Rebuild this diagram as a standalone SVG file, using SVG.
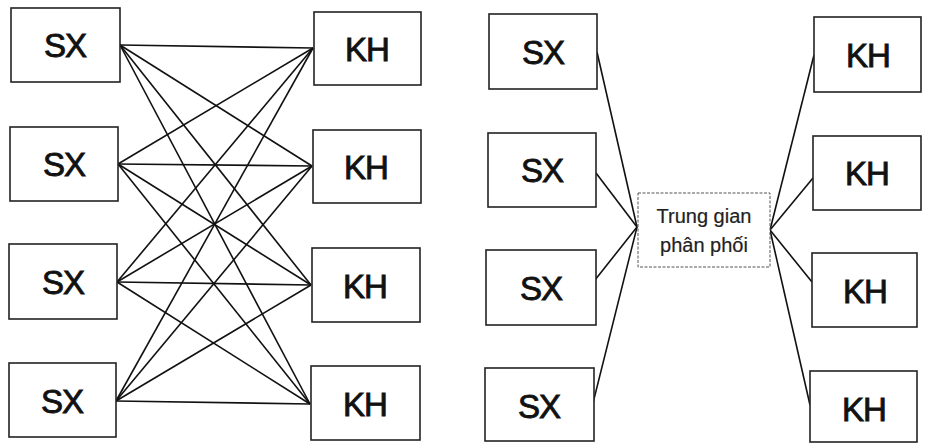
<svg xmlns="http://www.w3.org/2000/svg" width="925" height="443" viewBox="0 0 925 443">
<style>
.box{fill:#fff;stroke:#222;stroke-width:1.6}
.lbl{font-family:"Liberation Sans",Arial,sans-serif;font-size:33px;fill:#111;stroke:#111;stroke-width:0.9;text-anchor:middle;letter-spacing:-1px}
.mid{fill:#fff;stroke:#555;stroke-width:1;stroke-dasharray:3 1.5}
.mtxt{font-family:"Liberation Sans",Arial,sans-serif;font-size:20px;fill:#222;stroke:#222;stroke-width:0.2;text-anchor:middle}
.c line{stroke:#111;stroke-width:1.6}
</style>
<rect width="925" height="443" fill="#fff"/>
<g class="c" id="connectors">
<line x1="120" y1="45" x2="313" y2="48"/>
<line x1="120" y1="45" x2="312" y2="166"/>
<line x1="120" y1="45" x2="311" y2="285"/>
<line x1="120" y1="45" x2="310" y2="404"/>
<line x1="118" y1="164" x2="313" y2="48"/>
<line x1="118" y1="164" x2="312" y2="166"/>
<line x1="118" y1="164" x2="311" y2="285"/>
<line x1="118" y1="164" x2="310" y2="404"/>
<line x1="117" y1="282" x2="313" y2="48"/>
<line x1="117" y1="282" x2="312" y2="166"/>
<line x1="117" y1="282" x2="311" y2="285"/>
<line x1="117" y1="282" x2="310" y2="404"/>
<line x1="116" y1="401" x2="313" y2="48"/>
<line x1="116" y1="401" x2="312" y2="166"/>
<line x1="116" y1="401" x2="311" y2="285"/>
<line x1="116" y1="401" x2="310" y2="404"/>
<line x1="597" y1="52" x2="637" y2="227"/>
<line x1="596" y1="173" x2="637" y2="227"/>
<line x1="595" y1="280" x2="637" y2="227"/>
<line x1="593" y1="403" x2="637" y2="227"/>
<line x1="814" y1="55" x2="770" y2="230"/>
<line x1="813" y1="178" x2="770" y2="230"/>
<line x1="812" y1="282" x2="770" y2="230"/>
<line x1="810" y1="405" x2="770" y2="230"/>
</g>
<g id="sx1"><rect class="box" x="11" y="8" width="109" height="74"/><text class="lbl" x="65" y="57">SX</text></g>
<g id="sx2"><rect class="box" x="10" y="127" width="108" height="74"/><text class="lbl" x="64" y="176">SX</text></g>
<g id="sx3"><rect class="box" x="9" y="244" width="108" height="75"/><text class="lbl" x="63" y="294">SX</text></g>
<g id="sx4"><rect class="box" x="9" y="363" width="107" height="74"/><text class="lbl" x="62" y="413">SX</text></g>
<g id="kh1"><rect class="box" x="314" y="12" width="107" height="73"/><text class="lbl" x="367" y="61">KH</text></g>
<g id="kh2"><rect class="box" x="313" y="130" width="108" height="73"/><text class="lbl" x="366" y="179">KH</text></g>
<g id="kh3"><rect class="box" x="312" y="248" width="108" height="74"/><text class="lbl" x="365" y="298">KH</text></g>
<g id="kh4"><rect class="box" x="311" y="366" width="109" height="74"/><text class="lbl" x="365" y="416">KH</text></g>
<g id="rsx1"><rect class="box" x="489" y="14" width="108" height="75"/><text class="lbl" x="543" y="64">SX</text></g>
<g id="rsx2"><rect class="box" x="488" y="133" width="108" height="74"/><text class="lbl" x="542" y="182">SX</text></g>
<g id="rsx3"><rect class="box" x="486" y="250" width="110" height="75"/><text class="lbl" x="541" y="300">SX</text></g>
<g id="rsx4"><rect class="box" x="485" y="368" width="109" height="73"/><text class="lbl" x="539" y="418">SX</text></g>
<g id="rkh1"><rect class="box" x="814" y="17" width="107" height="75"/><text class="lbl" x="868" y="67">KH</text></g>
<g id="rkh2"><rect class="box" x="813" y="136" width="108" height="74"/><text class="lbl" x="867" y="185">KH</text></g>
<g id="rkh3"><rect class="box" x="812" y="253" width="105" height="74"/><text class="lbl" x="865" y="303">KH</text></g>
<g id="rkh4"><rect class="box" x="810" y="371" width="107" height="71"/><text class="lbl" x="864" y="421">KH</text></g>
<g id="trunggian"><rect class="mid" x="638" y="193" width="132" height="74"/><text class="mtxt" x="704" y="223">Trung gian</text><text class="mtxt" x="704" y="252">phân phối</text></g>
</svg>
